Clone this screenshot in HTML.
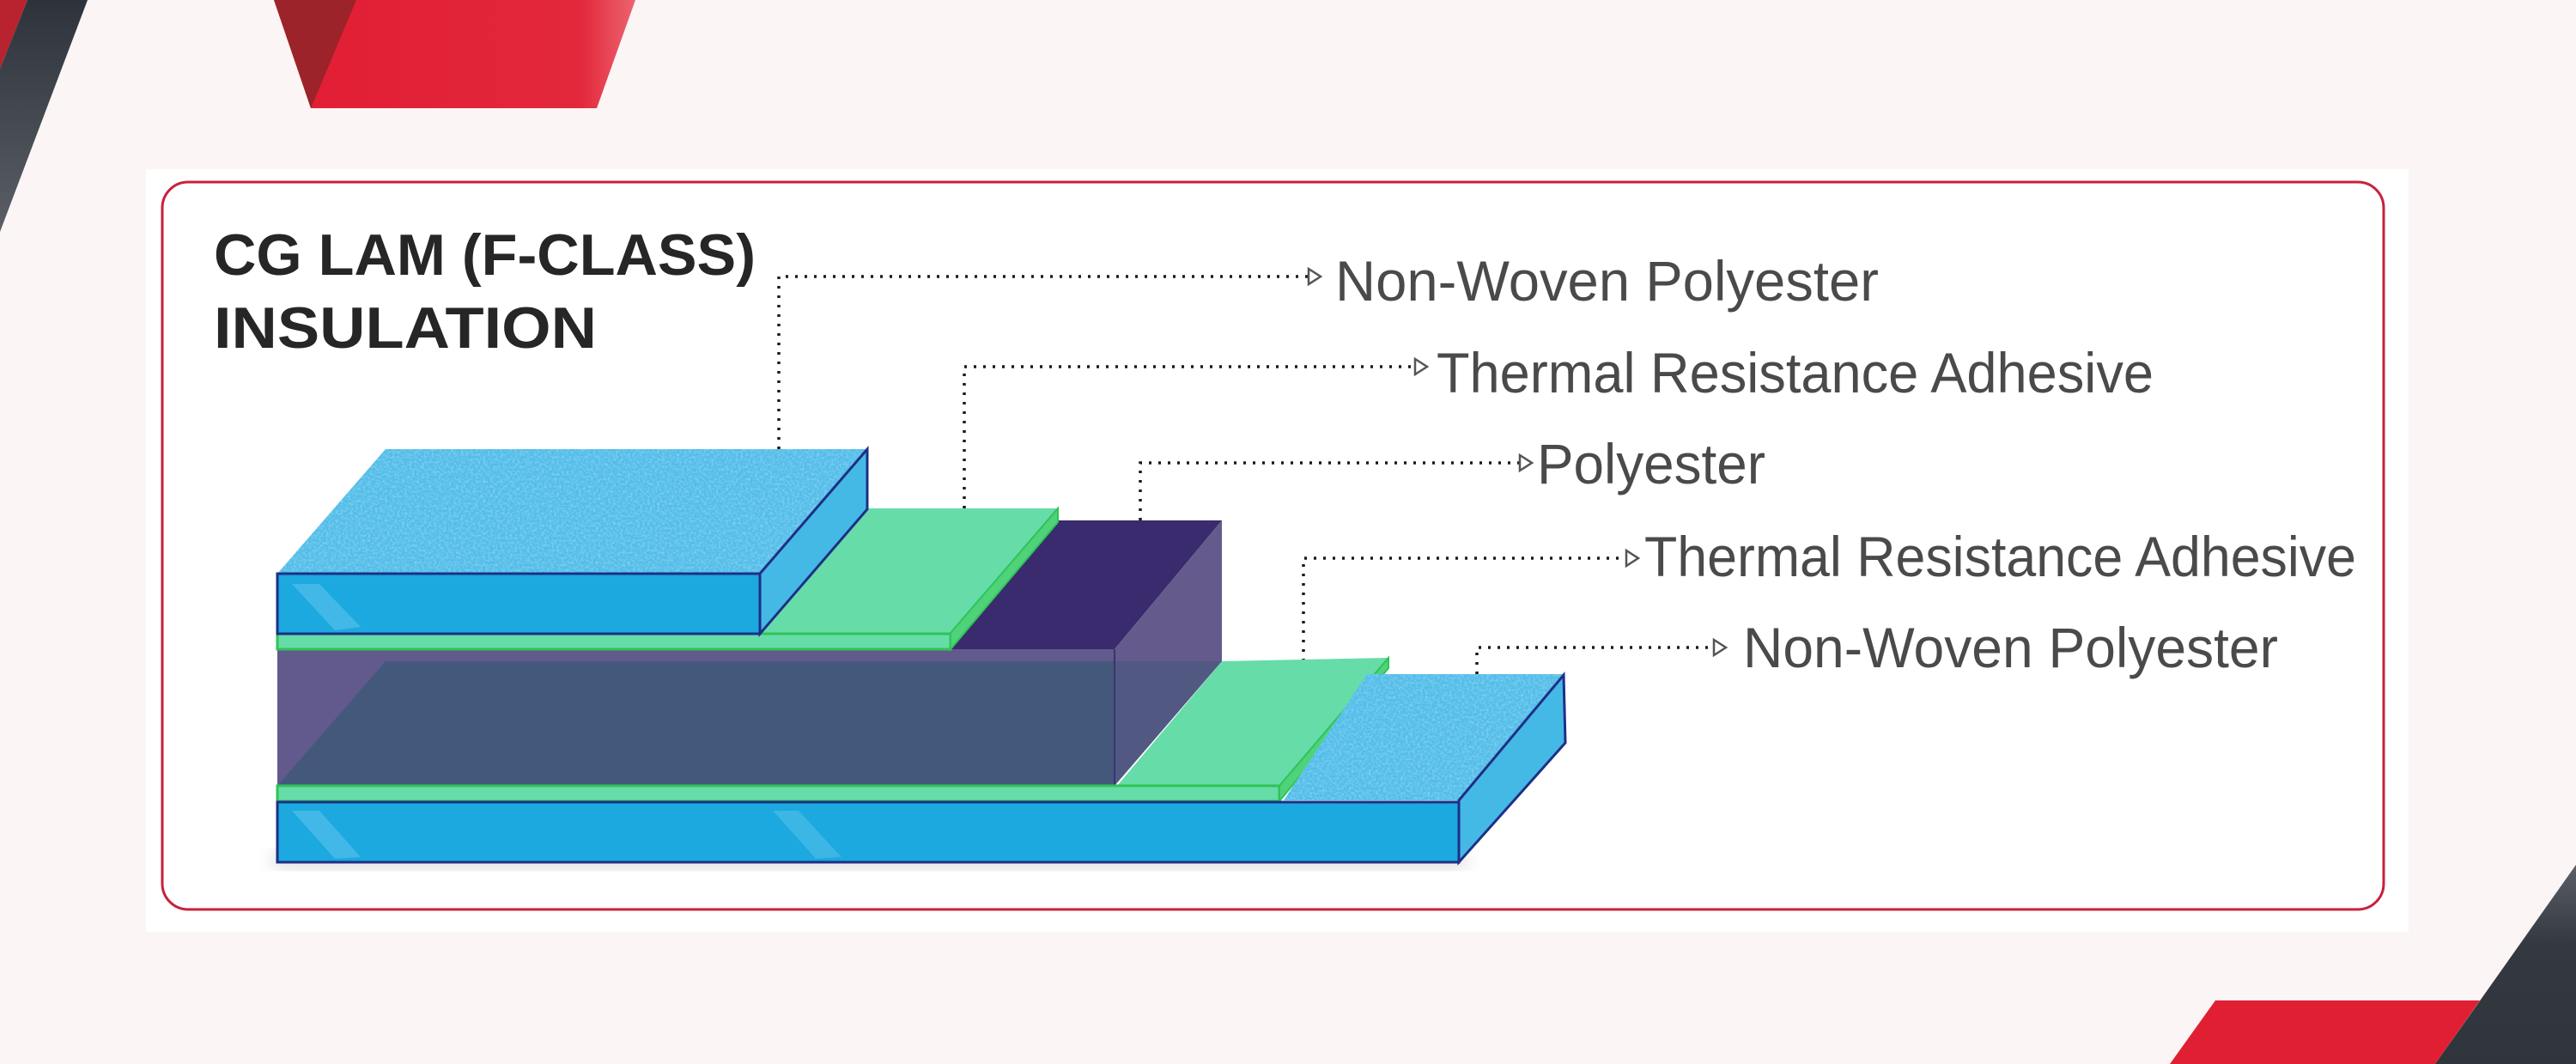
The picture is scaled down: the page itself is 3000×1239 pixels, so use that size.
<!DOCTYPE html>
<html><head><meta charset="utf-8"><style>
html,body{margin:0;padding:0;background:#fbf5f5;}
svg{display:block;}
</style></head><body>
<svg width="3000" height="1239" viewBox="0 0 3000 1239" xmlns="http://www.w3.org/2000/svg">
<defs>
<linearGradient id="dk" x1="0" y1="0" x2="0" y2="1"><stop offset="0" stop-color="#2e333b"/><stop offset="1" stop-color="#5a5f66"/></linearGradient>
<linearGradient id="dk2" x1="0" y1="0" x2="0" y2="1"><stop offset="0" stop-color="#5a5f66"/><stop offset="0.4" stop-color="#343941"/><stop offset="1" stop-color="#30353c"/></linearGradient>
<linearGradient id="rd" x1="0" y1="0" x2="1" y2="0"><stop offset="0" stop-color="#e21d33"/><stop offset="0.85" stop-color="#e3283b"/><stop offset="1" stop-color="#ec6470"/></linearGradient>
<filter id="tex" x="0" y="0" width="1" height="1"><feTurbulence type="fractalNoise" baseFrequency="0.35" numOctaves="2" seed="3"/><feColorMatrix values="0 0 0 0 1  0 0 0 0 1  0 0 0 0 1  0 0 0 1.2 -0.45"/><feComposite in2="SourceGraphic" operator="in"/></filter>
<filter id="sh"><feGaussianBlur stdDeviation="10"/></filter>
</defs>
<rect width="3000" height="1239" fill="#fbf5f5"/>
<!-- top-left decoration -->
<polygon points="0,0 32,0 0,80" fill="#b8232f"/>
<polygon points="32,0 102,0 0,270 0,80" fill="url(#dk)"/>
<polygon points="319,0 740,0 695,126 362,126" fill="url(#rd)"/>
<polygon points="319,0 415,0 362,126" fill="#9c2329"/>
<!-- bottom-right decoration -->
<polygon points="2580,1165 2888,1165 2836,1239 2527,1239" fill="#e01f33"/>
<polygon points="3000,1007 3000,1239 2836,1239" fill="url(#dk2)"/>
<!-- panel -->
<rect x="170" y="197" width="2635" height="888" fill="#ffffff"/>
<rect x="189" y="212" width="2587" height="847" rx="30" ry="30" fill="none" stroke="#c8213a" stroke-width="3"/>
<!-- title -->
<g font-family="Liberation Sans, sans-serif" font-weight="bold" fill="#262626" font-size="68">
<text x="249" y="320" textLength="631" lengthAdjust="spacingAndGlyphs">CG LAM (F-CLASS)</text>
<text x="249" y="405" textLength="446" lengthAdjust="spacingAndGlyphs">INSULATION</text>
</g>
<!-- connectors -->
<g fill="none" stroke="#1a1a1a" stroke-width="3.5" stroke-dasharray="3 8">
<polyline points="907,523 907,322 1530,322"/>
<polyline points="1123,592 1123,427 1654,427"/>
<polyline points="1328,606 1328,539 1776,539"/>
<polyline points="1518,770 1518,650 1900,650"/>
<polyline points="1720,785 1720,754 2001,754"/>
</g>
<g fill="#fff" stroke="#555" stroke-width="2.5">
<polygon points="1524,313 1538,322 1524,331"/>
<polygon points="1648,418 1662,427 1648,436"/>
<polygon points="1770,530 1784,539 1770,548"/>
<polygon points="1894,641 1908,650 1894,659"/>
<polygon points="1996,745 2010,754 1996,763"/>
</g>
<g font-family="Liberation Sans, sans-serif" fill="#4a4a4a" font-size="66">
<text x="1555" y="350" textLength="633" lengthAdjust="spacingAndGlyphs">Non-Woven Polyester</text>
<text x="1673" y="457" textLength="835" lengthAdjust="spacingAndGlyphs">Thermal Resistance Adhesive</text>
<text x="1790" y="563" textLength="266" lengthAdjust="spacingAndGlyphs">Polyester</text>
<text x="1915" y="671" textLength="829" lengthAdjust="spacingAndGlyphs">Thermal Resistance Adhesive</text>
<text x="2030" y="777" textLength="623" lengthAdjust="spacingAndGlyphs">Non-Woven Polyester</text>
</g>
<!-- shadow -->
<rect x="318" y="990" width="1390" height="22" fill="#000" opacity="0.12" filter="url(#sh)"/>
<!-- polyester block -->
<polygon points="1232,606 1423,606 1298,756 1107,756" fill="#392b6e"/>
<polygon points="1423,606 1423,770 1298,915 1298,756" fill="#645a8c"/>
<rect x="323" y="756" width="975" height="159" fill="#625a8c"/>
<polygon points="449,770 1298,770 1298,915 323,915" fill="#44587b"/>
<polygon points="1298,770 1423,770 1298,915" fill="#44587b" opacity="0.6"/>
<line x1="1298" y1="756" x2="1298" y2="915" stroke="#3a3470" stroke-width="2"/>
<!-- upper green -->
<polygon points="1010,592 1232,592 1107,737 885,737" fill="#66dca9"/>
<rect x="323" y="738" width="784" height="18" fill="#66dca9" stroke="#2fc456" stroke-width="3"/>
<polygon points="1232,592 1232,608 1107,756 1107,737" fill="#4fd27a" stroke="#2fc456" stroke-width="2"/>
<!-- upper NWP block -->
<polygon points="449,523 1010,523 885,668 323,668" fill="#52bde9"/>
<polygon points="449,523 1010,523 885,668 323,668" fill="#fff" filter="url(#tex)" opacity="0.5"/>
<rect x="323" y="668" width="562" height="70" fill="#1ba9df" stroke="#1d2f86" stroke-width="3"/>
<polygon points="340,680 372,680 420,730 390,734" fill="#5cc3ec" opacity="0.6"/>
<polygon points="885,668 1010,523 1010,593 885,738" fill="#45b9e6" stroke="#1d2f86" stroke-width="3"/>
<!-- lower green -->
<polygon points="1423,770 1617,766 1490,915 1301,915" fill="#66dca9"/>
<rect x="323" y="915" width="1167" height="18" fill="#66dca9" stroke="#2fc456" stroke-width="3"/>
<polygon points="1617,766 1617,778 1490,933 1490,915" fill="#4fd27a" stroke="#2fc456" stroke-width="2"/>
<!-- lower NWP block -->
<polygon points="1592,785 1821,785 1699,932 1495,932" fill="#52bde9"/>
<polygon points="1592,785 1821,785 1699,932 1495,932" fill="#fff" filter="url(#tex)" opacity="0.5"/>
<rect x="323" y="934" width="1376" height="70" fill="#1ba9df" stroke="#1d2f86" stroke-width="3"/>
<polygon points="340,944 372,944 420,998 390,1000" fill="#5cc3ec" opacity="0.6"/>
<polygon points="900,944 930,944 980,998 950,1000" fill="#5cc3ec" opacity="0.5"/>
<polygon points="1699,932 1821,786 1823,865 1699,1004" fill="#45b9e6" stroke="#1d2f86" stroke-width="3"/>
</svg>
</body></html>
